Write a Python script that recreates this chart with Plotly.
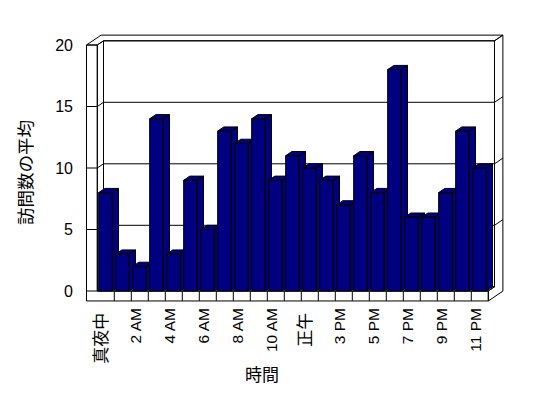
import plotly.graph_objects as go

# ---- data ----
categories = ["真夜中", "1 AM", "2 AM", "3 AM", "4 AM", "5 AM", "6 AM", "7 AM",
              "8 AM", "9 AM", "10 AM", "11 AM", "正午", "1 PM", "3 PM", "4 PM",
              "5 PM", "6 PM", "7 PM", "8 PM", "9 PM", "10 PM", "11 PM"]
visits = [8, 3, 2, 14, 3, 9, 5, 13, 12, 14, 9, 11, 10, 9, 7, 11, 8, 18, 6, 6, 8, 13, 10]
value_ticks = [0, 5, 10, 15, 20]
x_title = "時間"
y_title = "訪問数の平均"

# ---- geometry (data units) ----
N = len(categories)
VMAX = value_ticks[-1]
DX, DY = 0.365, 0.341      # one depth unit in data units
ZB = 2.35                  # outer depth of back wall
WL = 0.635                 # left wall thickness
FT = 0.81                  # floor thickness
BL, BR = 0.08, 0.88        # bar front face within its category
NAVY = "#000080"
FONT = "Liberation Sans, Arial, Noto Sans CJK JP"


def P(x, y, z=0.0):
    return (x + z * DX, y + z * DY)


def poly_trace(polys, fill, width=1):
    xs, ys = [], []
    for pts in polys:
        for (x, y) in pts:
            xs.append(x)
            ys.append(y)
        xs.append(pts[0][0])
        ys.append(pts[0][1])
        xs.append(None)
        ys.append(None)
    return go.Scatter(x=xs, y=ys, mode="lines", fill="toself", fillcolor=fill,
                      line=dict(color="black", width=width), hoverinfo="skip",
                      showlegend=False)


def line_trace(lines):
    xs, ys = [], []
    for pts in lines:
        for (x, y) in pts:
            xs.append(x)
            ys.append(y)
        xs.append(None)
        ys.append(None)
    return go.Scatter(x=xs, y=ys, mode="lines", line=dict(color="black", width=1),
                      hoverinfo="skip", showlegend=False)


fig = go.Figure()

# walls and floor
front_L = [(-WL, VMAX), (0, VMAX), (0, 0), (N, 0), (N, -FT), (-WL, -FT)]
top_L = [P(-WL, VMAX, 0), P(-WL, VMAX, ZB), P(N, VMAX, ZB), P(N, VMAX, 1),
         P(0, VMAX, 1), P(0, VMAX, 0)]
left_inner = [P(0, VMAX, 0), P(0, VMAX, 1), P(0, 0, 1), P(0, 0, 0)]
back_inner = [P(0, VMAX, 1), P(N, VMAX, 1), P(N, 0, 1), P(0, 0, 1)]
floor_top = [P(0, 0, 0), P(N, 0, 0), P(N, 0, 1), P(0, 0, 1)]
right_face = [P(N, -FT, 0), P(N, 0, 0), P(N, 0, 1), P(N, VMAX, 1),
              P(N, VMAX, ZB), P(N, -FT, ZB)]
fig.add_trace(poly_trace([front_L, top_L, left_inner, back_inner, floor_top, right_face], "white"))

grid = []
for v in value_ticks[:-1]:
    if v == 0:
        grid.append([(-WL, 0), (0, 0)])
    else:
        grid.append([(-WL, v), (0, v), P(0, v, 1), P(N, v, 1), P(N, v, ZB)])
for k in range(1, N):
    grid.append([(k, 0), (k, -FT)])
fig.add_trace(line_trace(grid))

# bars (drawn left to right so each covers the side of the previous one)
for i, v in enumerate(visits):
    front = [(i + BL, 0), (i + BR, 0), (i + BR, v), (i + BL, v)]
    side = [P(i + BR, 0, 0), P(i + BR, 0, 1), P(i + BR, v, 1), P(i + BR, v, 0)]
    top = [P(i + BL, v, 0), P(i + BR, v, 0), P(i + BR, v, 1), P(i + BL, v, 1)]
    fig.add_trace(poly_trace([side, top, front], NAVY))


def fmt(lbl):
    if any(ord(c) > 0x2E80 for c in lbl):
        return '<span style="font-size:17px">' + lbl + '\u00a0</span>'
    return lbl


tick_idx = list(range(0, N, 2))
fig.update_layout(
    width=548, height=398,
    margin=dict(l=80, r=38, t=30, b=88),
    paper_bgcolor="white", plot_bgcolor="white",
    font=dict(family=FONT, size=15, color="black"),
    hovermode=False,
    xaxis=dict(range=[-1.0176, 24.2765], showgrid=False, zeroline=False, showline=False,
               tickmode="array", tickvals=[i + 0.5 - 0.22 for i in tick_idx],
               ticktext=[fmt(categories[i]) for i in tick_idx],
               tickangle=-90, ticks="", ticklabelstandoff=-6,
               tickfont=dict(family=FONT, size=15.5, color="black")),
    yaxis=dict(range=[-1.5447, 21.2195], showgrid=False, zeroline=False, showline=False,
               tickmode="array", tickvals=value_ticks, ticktext=[str(v) for v in value_ticks],
               ticks="", ticklabelstandoff=6,
               tickfont=dict(family=FONT, size=16, color="black")),
    annotations=[
        dict(text=x_title, xref="paper", yref="paper", x=(262 - 80) / 430, y=(310 - 375) / 280,
             showarrow=False, font=dict(family=FONT, size=17, color="black"),
             xanchor="center", yanchor="middle"),
        dict(text=y_title, xref="paper", yref="paper", x=(26 - 80) / 430, y=(310 - 172) / 280,
             showarrow=False, textangle=-90, font=dict(family=FONT, size=17.5, color="black"),
             xanchor="center", yanchor="middle"),
    ],
)

fig.write_html("out.html")
